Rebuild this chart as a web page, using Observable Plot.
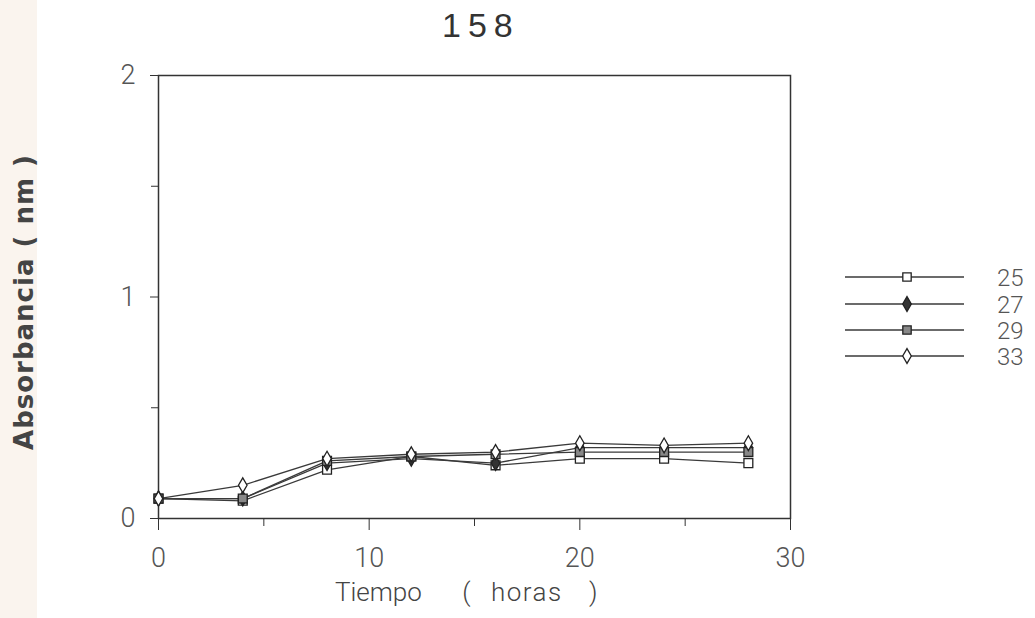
<!DOCTYPE html>
<html>
<head>
<meta charset="utf-8">
<script src="https://cdn.jsdelivr.net/npm/d3@7"></script>
<script src="https://cdn.jsdelivr.net/npm/@observablehq/plot@0.6"></script>
<style>
  html, body { margin: 0; padding: 0; background: #fff; }
  #wrap { position: relative; width: 1035px; height: 618px; overflow: hidden; font-family: Roboto, "Liberation Sans", sans-serif; background: #fff; }
  #strip { position: absolute; left: 0; top: 0; width: 37px; height: 618px; background: #faf4ee; }
  #title { position: absolute; left: 442px; top: 6px; white-space: nowrap; font-size: 34px; letter-spacing: 7px; color: #333; font-family: "Liberation Sans", sans-serif; }
  #chart { position: absolute; left: 0; top: 60px; }
  #ylab { position: absolute; left: 24px; top: 302px; transform: translate(-50%, -50%) rotate(-90deg); white-space: nowrap; font-family: "DejaVu Sans", sans-serif; font-weight: bold; font-size: 26px; letter-spacing: 1px; color: #444; }
  #xlab { position: absolute; left: 335px; top: 577px; white-space: nowrap; font-size: 26px; font-weight: 300; color: #444; }
  #xlab span { display: inline-block; }
  #legend { position: absolute; left: 0; top: 0; }
</style>
</head>
<body>
<div id="wrap">
  <div id="strip"></div>
  <div id="title">158</div>
  <div id="chart"></div>
  <div id="ylab">Absorbancia ( nm )</div>
  <div id="xlab"><span style="margin-right:34px">Tiempo</span> <span style="margin-right:14px">(</span> <span style="letter-spacing:1.5px;margin-right:20px">horas</span> <span>)</span></div>
  <div id="legend"></div>
</div>
<script>
const hours = [0, 4, 8, 12, 16, 20, 24, 28];
const seriesNames = ["25", "27", "29", "33"];
const abs25 = [0.09, 0.08, 0.22, 0.28, 0.24, 0.27, 0.27, 0.25];
const abs27 = [0.09, 0.09, 0.25, 0.27, 0.25, 0.32, 0.32, 0.32];
const abs29 = [0.09, 0.09, 0.26, 0.28, 0.29, 0.30, 0.30, 0.30];
const abs33 = [0.09, 0.15, 0.27, 0.29, 0.30, 0.34, 0.33, 0.34];
const xTicks = [0, 10, 20, 30];
const xMinorTicks = [5, 15, 25];
const yTicks = [0, 1, 2];
const yMinorTicks = [0.5, 1.5];

const seriesValues = [abs25, abs27, abs29, abs33];
const symbols = ["square", "diamond", "square", "diamond"];
const fills = ["#fff", "#333", "#888", "#fff"];
const radii = [5, 4.5, 5, 4.5];

const rows = [];
seriesNames.forEach((name, i) => {
  hours.forEach((h, j) => rows.push({series: name, hour: h, value: seriesValues[i][j]}));
});

const fontFam = "Roboto, 'Liberation Sans', sans-serif";
const lineColor = "#3a3a3a";
const marks = [
  Plot.frame({stroke: "#333", strokeWidth: 1.5}),
  Plot.axisY({ticks: yTicks, tickFormat: d3.format("d"), tickSize: 8, tickPadding: 15, fontSize: 27, fontWeight: 300, color: "#555", stroke: "#333", label: null}),
  Plot.axisY({ticks: yMinorTicks, tickSize: 7, tickFormat: () => "", label: null, stroke: "#333"}),
  Plot.axisX({ticks: xTicks, tickFormat: d3.format("d"), tickSize: 12, tickPadding: 17, fontSize: 27, fontWeight: 300, color: "#555", stroke: "#333", label: null}),
  Plot.axisX({ticks: xMinorTicks, tickSize: 8, tickFormat: () => "", label: null, stroke: "#333"})
];
seriesNames.forEach((name, i) => {
  const data = rows.filter(d => d.series === name);
  marks.push(Plot.line(data, {x: "hour", y: "value", stroke: lineColor, strokeWidth: 1.3}));
});
seriesNames.forEach((name, i) => {
  const data = rows.filter(d => d.series === name);
  marks.push(Plot.dot(data, {x: "hour", y: "value", symbol: symbols[i], r: radii[i], fill: fills[i], stroke: "#222", strokeWidth: 1.3}));
});

const chart = Plot.plot({
  width: 1035,
  height: 558,
  marginLeft: 158,
  marginRight: 245,
  marginTop: 15,
  marginBottom: 100,
  x: {domain: [0, 30], axis: null},
  y: {domain: [0, 2], axis: null},
  style: {background: "transparent", fontFamily: fontFam},
  marks
});
document.getElementById("chart").appendChild(chart);

// Legend
const leg = d3.select("#legend").append("svg").attr("width", 1035).attr("height", 618);
const rowY = [277, 304, 330, 356];
seriesNames.forEach((name, i) => {
  const y = rowY[i];
  leg.append("line").attr("x1", 845).attr("x2", 964).attr("y1", y).attr("y2", y).attr("stroke", lineColor).attr("stroke-width", 1.3);
  const sym = d3.symbol().type(symbols[i] === "square" ? d3.symbolSquare : d3.symbolDiamond).size(symbols[i] === "square" ? 70 : 64);
  leg.append("path").attr("d", sym()).attr("transform", `translate(907,${y})`).attr("fill", fills[i]).attr("stroke", "#222").attr("stroke-width", 1.3);
  leg.append("text").attr("x", 997).attr("y", y).attr("dy", "0.36em").attr("font-size", 24).attr("font-weight", 300).attr("fill", "#555")
    .attr("font-family", fontFam).text(name);
});
</script>
</body>
</html>
